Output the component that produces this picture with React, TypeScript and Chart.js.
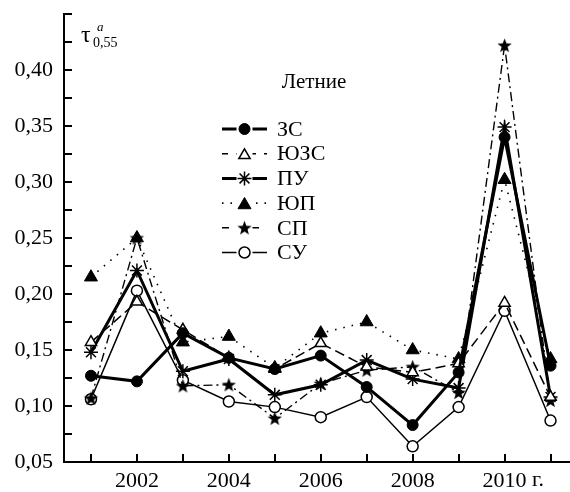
import React, { useEffect, useRef } from 'react';
import { Chart, registerables } from 'chart.js';
Chart.register(...registerables);

const years = [2001, 2002, 2003, 2004, 2005, 2006, 2007, 2008, 2009, 2010, 2011];
const labeledYears = [2002, 2004, 2006, 2008, 2010];
const yLabelValues = [0.05, 0.1, 0.15, 0.2, 0.25, 0.3, 0.35, 0.4];
const seriesNames = ['ЗС', 'ЮЗС', 'ПУ', 'ЮП', 'СП', 'СУ'];
const zs = [0.127, 0.122, 0.165, 0.143, 0.133, 0.145, 0.117, 0.083, 0.130, 0.340, 0.136];
const yuzs = [0.157, 0.193, 0.168, 0.143, 0.133, 0.156, 0.135, 0.130, 0.138, 0.192, 0.108];
const pu = [0.148, 0.221, 0.131, 0.142, 0.110, 0.119, 0.141, 0.124, 0.116, 0.349, 0.108];
const yup = [0.215, 0.250, 0.157, 0.162, 0.134, 0.165, 0.175, 0.150, 0.142, 0.302, 0.142];
const sp = [0.107, 0.250, 0.118, 0.119, 0.089, 0.120, 0.132, 0.135, 0.112, 0.422, 0.105];
const su = [0.106, 0.203, 0.123, 0.104, 0.099, 0.090, 0.108, 0.064, 0.099, 0.185, 0.087];
const titleText = 'Летние';

const FONT = "'Liberation Serif', 'Times New Roman', serif";

function makeStar(r: number): HTMLCanvasElement {
  const c = document.createElement('canvas');
  const s = Math.ceil(r * 2 + 2);
  c.width = s; c.height = s;
  const ctx = c.getContext('2d')!;
  const cx = s / 2, cy = s / 2 + 0.6;
  ctx.beginPath();
  for (let i = 0; i < 10; i++) {
    const rad = i % 2 === 0 ? r : r * 0.42;
    const a = -Math.PI / 2 + (i * Math.PI) / 5;
    const x = cx + rad * Math.cos(a), y = cy + rad * Math.sin(a);
    if (i === 0) ctx.moveTo(x, y); else ctx.lineTo(x, y);
  }
  ctx.closePath();
  ctx.fillStyle = '#000';
  ctx.fill();
  return c;
}

type Spec = { data: number[]; width: number; dash: number[]; style: string; radius: number; fill: string; bw: number; legendDash: number[] };

export default function App() {
  const ref = useRef<HTMLCanvasElement>(null);
  useEffect(() => {
    const star = makeStar(7.5);
    const specs: Spec[] = [
      { data: zs, width: 3, dash: [], style: 'circle', radius: 5.5, fill: '#000', bw: 1, legendDash: [] },
      { data: yuzs, width: 1.5, dash: [10, 5], style: 'triangle', radius: 6.5, fill: '#fff', bw: 1.5, legendDash: [6, 8] },
      { data: pu, width: 3, dash: [], style: 'star', radius: 7, fill: '#000', bw: 1.5, legendDash: [] },
      { data: yup, width: 1.6, dash: [1.5, 7], style: 'triangle', radius: 7.5, fill: '#000', bw: 1, legendDash: [1.5, 7] },
      { data: sp, width: 1.4, dash: [9, 4, 2, 4], style: 'img', radius: 7, fill: '#000', bw: 1, legendDash: [7, 8] },
      { data: su, width: 1.5, dash: [], style: 'circle', radius: 5.5, fill: '#fff', bw: 1.5, legendDash: [] },
    ];

    const drawMarker = (ctx: CanvasRenderingContext2D, sp: Spec, x: number, y: number) => {
      ctx.save();
      ctx.setLineDash([]);
      ctx.fillStyle = sp.fill;
      ctx.strokeStyle = '#000';
      ctx.lineWidth = sp.bw;
      const r = sp.radius;
      if (sp.style === 'circle') {
        ctx.beginPath(); ctx.arc(x, y, r, 0, Math.PI * 2); ctx.fill(); ctx.stroke();
      } else if (sp.style === 'triangle') {
        ctx.beginPath();
        for (let i = 0; i < 3; i++) {
          const a = -Math.PI / 2 + i * 2 * Math.PI / 3;
          const px = x + r * Math.cos(a), py = y + r * Math.sin(a) + r * 0.25;
          if (i === 0) ctx.moveTo(px, py); else ctx.lineTo(px, py);
        }
        ctx.closePath(); ctx.fill(); ctx.stroke();
      } else if (sp.style === 'star') {
        ctx.beginPath();
        for (let i = 0; i < 4; i++) {
          const a = i * Math.PI / 4;
          ctx.moveTo(x - r * Math.cos(a), y - r * Math.sin(a));
          ctx.lineTo(x + r * Math.cos(a), y + r * Math.sin(a));
        }
        ctx.stroke();
      } else {
        ctx.drawImage(star, x - star.width / 2, y - star.height / 2);
      }
      ctx.restore();
    };

    const decor = {
      id: 'decor',
      afterDraw(chart: any) {
        const ctx: CanvasRenderingContext2D = chart.ctx;
        const xs = chart.scales.x, ys = chart.scales.y;
        const area = chart.chartArea;
        ctx.save();
        ctx.strokeStyle = '#000';
        ctx.lineWidth = 2;
        ctx.setLineDash([]);
        // extend the x axis line to the right edge
        ctx.beginPath(); ctx.moveTo(area.right - 1, area.bottom); ctx.lineTo(chart.width, area.bottom); ctx.stroke();
        // inward ticks
        for (let i = 0; i <= 16; i++) {
          const v = 0.05 + i * 0.025;
          const y = Math.round(ys.getPixelForValue(v));
          ctx.beginPath(); ctx.moveTo(area.left, y); ctx.lineTo(area.left + 8, y); ctx.stroke();
        }
        for (const yr of years) {
          const x = Math.round(xs.getPixelForValue(yr));
          ctx.beginPath(); ctx.moveTo(x, area.bottom); ctx.lineTo(x, area.bottom - 8); ctx.stroke();
        }
        // "г." after 2010
        ctx.fillStyle = '#000';
        ctx.font = `22px ${FONT}`;
        ctx.textBaseline = 'middle';
        ctx.textAlign = 'left';
        const w2010 = ctx.measureText('2010').width;
        ctx.fillText(' г.', xs.getPixelForValue(2010) + w2010 / 2, 480);
        // title
        ctx.font = `21px ${FONT}`;
        ctx.textAlign = 'center';
        ctx.fillText(titleText, 314, 82);
        // axis title tau
        ctx.textAlign = 'left';
        ctx.font = `24px ${FONT}`;
        ctx.fillText('τ', 81, 36);
        ctx.font = `italic 13px ${FONT}`;
        ctx.fillText('a', 97, 28);
        ctx.font = `14px ${FONT}`;
        ctx.fillText('0,55', 93, 43);
        // legend
        const lx0 = 222, lx1 = 267, tx = 277, y0 = 129, dy = 24.7;
        specs.forEach((s, i) => {
          const y = y0 + i * dy;
          ctx.save();
          ctx.lineWidth = s.width;
          ctx.setLineDash(s.legendDash);
          ctx.beginPath(); ctx.moveTo(lx0, y); ctx.lineTo(lx1, y); ctx.stroke();
          ctx.restore();
          ctx.save();
          ctx.fillStyle = '#fff';
          ctx.fillRect((lx0 + lx1) / 2 - 8, y - 8, 16, 16);
          ctx.restore();
          drawMarker(ctx, s, (lx0 + lx1) / 2, y);
          ctx.fillStyle = '#000';
          ctx.font = `22px ${FONT}`;
          ctx.textAlign = 'left';
          ctx.textBaseline = 'middle';
          ctx.fillText(seriesNames[i], tx, y + 1);
        });
        ctx.restore();
      },
    };

    const chart = new Chart(ref.current!, {
      type: 'line',
      data: {
        labels: years,
        datasets: specs.map((s, i) => ({
          label: seriesNames[i],
          data: s.data.map((v, j) => ({ x: years[j], y: v })),
          borderColor: '#000',
          borderWidth: s.width,
          borderDash: s.dash,
          backgroundColor: s.fill,
          pointStyle: s.style === 'img' ? (star as any) : s.style,
          pointRadius: s.radius,
          pointBorderWidth: s.bw,
          pointBorderColor: '#000',
          pointBackgroundColor: s.fill,
          tension: 0,
          fill: false,
          clip: false as any,
        })),
      },
      options: {
        responsive: false,
        animation: false,
        devicePixelRatio: 1,
        layout: { padding: { top: 14, right: 0, left: 0, bottom: 0 } },
        plugins: { legend: { display: false }, tooltip: { enabled: false }, title: { display: false } },
        scales: {
          x: {
            type: 'linear',
            min: 2000.413,
            max: 2011.239,
            afterFit: (s: any) => { s.height = 30; s.paddingLeft = 0; s.paddingRight = 0; },
            afterBuildTicks: (s: any) => { s.ticks = labeledYears.map((v) => ({ value: v })); },
            grid: { display: false, drawOnChartArea: false, drawTicks: false },
            border: { display: true, color: '#000', width: 2 },
            ticks: {
              color: '#000',
              font: { family: FONT, size: 22 },
              padding: 6,
              maxRotation: 0,
              autoSkip: false,
              callback: (v: any) => String(v),
            },
          },
          y: {
            type: 'linear',
            min: 0.05,
            max: 0.45,
            afterFit: (s: any) => { s.width = 64; s.paddingTop = 0; s.paddingBottom = 0; },
            afterBuildTicks: (s: any) => { s.ticks = yLabelValues.map((v) => ({ value: v })); },
            grid: { display: false, drawOnChartArea: false, drawTicks: false },
            border: { display: true, color: '#000', width: 2 },
            ticks: {
              color: '#000',
              font: { family: FONT, size: 22 },
              padding: 11,
              autoSkip: false,
              callback: (v: any) => Number(v).toFixed(2).replace('.', ','),
            },
          },
        },
      },
      plugins: [decor],
    });
    return () => chart.destroy();
  }, []);

  return (
    <div style={{ position: 'absolute', left: 0, top: 0, width: 570, height: 492, background: '#fff' }}>
      <canvas ref={ref} width={570} height={492} style={{ display: 'block' }} />
    </div>
  );
}
